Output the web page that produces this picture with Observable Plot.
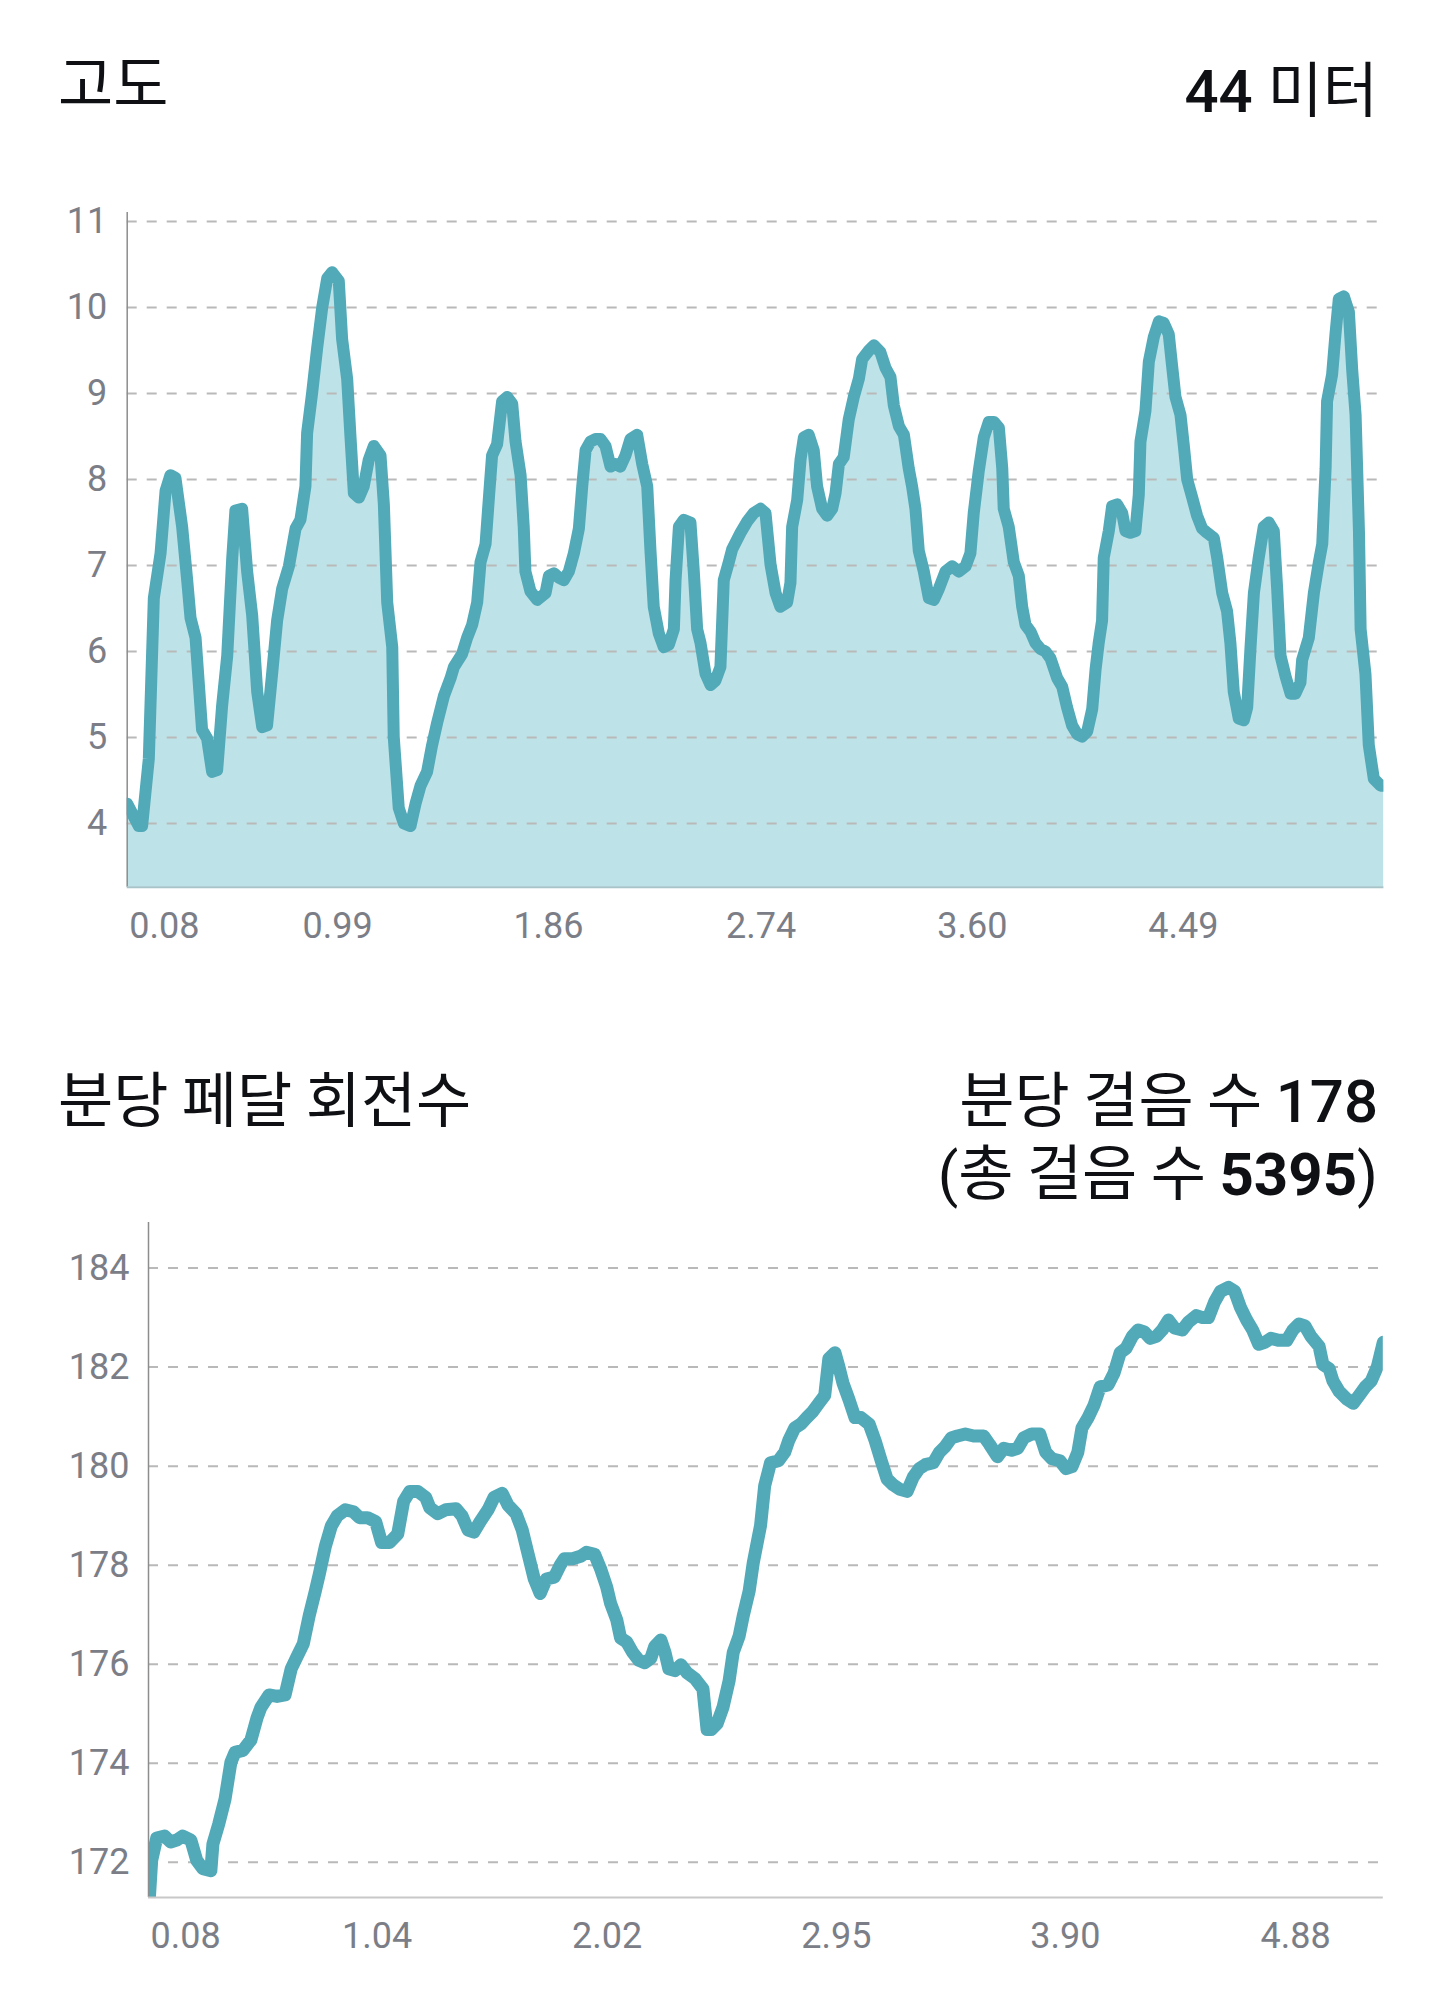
<!DOCTYPE html>
<html><head><meta charset="utf-8">
<script src="https://cdn.jsdelivr.net/npm/d3@7"></script>
<script src="https://cdn.jsdelivr.net/npm/@observablehq/plot@0.6"></script>
<style>
html,body{margin:0;padding:0;background:#fff;}
#page{position:relative;width:1440px;height:1992px;overflow:hidden;background:#fff;}
#chart1{position:absolute;left:0;top:0;}
#chart2{position:absolute;left:0;top:1000px;}
#titles{position:absolute;left:0;top:0;pointer-events:none;}
</style></head><body>
<div id="page"><div id="chart1"></div><div id="chart2"></div></div>
<script>
// ---------- Elevation (고도) ----------
const elevPos = [0.000,0.055,0.071,0.103,0.127,0.159,0.183,0.206,0.230,0.262,0.286,0.302,0.326,0.357,0.381,0.405,0.429,0.453,0.477,0.501,0.516,0.548,0.572,0.596,0.620,0.644,0.667,0.691,0.715,0.739,0.771,0.803,0.826,0.850,0.858,0.882,0.906,0.930,0.954,0.977,1.009,1.025,1.049,1.065,1.081,1.105,1.128,1.152,1.176,1.208,1.224,1.240,1.264,1.271,1.295,1.319,1.351,1.375,1.399,1.430,1.454,1.478,1.510,1.542,1.558,1.597,1.621,1.645,1.669,1.685,1.709,1.725,1.740,1.764,1.788,1.812,1.836,1.852,1.876,1.891,1.899,1.923,1.955,1.995,2.011,2.035,2.058,2.082,2.106,2.130,2.154,2.170,2.186,2.209,2.233,2.257,2.281,2.305,2.329,2.352,2.376,2.400,2.432,2.456,2.480,2.495,2.511,2.535,2.559,2.583,2.607,2.615,2.631,2.654,2.686,2.702,2.718,2.734,2.758,2.782,2.805,2.829,2.845,2.869,2.885,2.925,2.956,2.988,3.020,3.044,3.068,3.092,3.115,3.147,3.163,3.171,3.195,3.211,3.227,3.250,3.274,3.290,3.314,3.338,3.362,3.378,3.394,3.417,3.441,3.465,3.489,3.505,3.537,3.561,3.592,3.616,3.640,3.656,3.680,3.704,3.727,3.743,3.759,3.775,3.799,3.823,3.847,3.871,3.902,3.934,3.966,3.998,4.021,4.037,4.061,4.085,4.109,4.133,4.157,4.173,4.180,4.204,4.228,4.252,4.268,4.284,4.308,4.331,4.355,4.379,4.403,4.435,4.459,4.482,4.506,4.530,4.554,4.578,4.602,4.618,4.633,4.649,4.657,4.681,4.697,4.721,4.745,4.761,4.784,4.808,4.824,4.832,4.856,4.872,4.896,4.920,4.943,4.967,4.983,4.999,5.023,5.039,5.055,5.079,5.102,5.126,5.150,5.182,5.198,5.222,5.245,5.261,5.277,5.301,5.325,5.341,5.357,5.373,5.396,5.420,5.444,5.468,5.484,5.500,5.524,5.548,5.571,5.595,5.603,5.635,5.659,5.683,5.699,5.715,5.722,5.746,5.762,5.778,5.802,5.826,5.842,5.858,5.874,5.882,5.905,5.921,5.945,5.977,5.993];
const elevMeters = [4.23,3.97,3.97,4.75,6.62,7.14,7.87,8.05,8.02,7.45,6.83,6.39,6.16,5.09,4.99,4.60,4.62,5.38,5.95,7.09,7.64,7.66,6.93,6.42,5.53,5.12,5.14,5.74,6.36,6.73,6.99,7.43,7.53,7.92,8.54,9.01,9.53,10.0,10.34,10.41,10.31,9.63,9.17,8.49,7.84,7.79,7.92,8.23,8.39,8.28,7.71,6.57,6.05,5.01,4.18,4.0,3.97,4.23,4.44,4.60,4.91,5.17,5.48,5.69,5.82,5.97,6.16,6.31,6.57,7.04,7.25,7.79,8.28,8.41,8.91,8.96,8.88,8.44,8.05,7.45,6.93,6.70,6.60,6.68,6.88,6.91,6.86,6.83,6.93,7.14,7.43,7.92,8.34,8.44,8.47,8.47,8.39,8.15,8.18,8.15,8.28,8.47,8.52,8.18,7.92,7.19,6.52,6.21,6.05,6.08,6.26,6.83,7.45,7.53,7.50,6.93,6.26,6.10,5.74,5.61,5.66,5.82,6.83,7.04,7.19,7.38,7.51,7.61,7.66,7.61,7.01,6.68,6.52,6.57,6.80,7.45,7.76,8.23,8.49,8.52,8.34,7.92,7.66,7.58,7.66,7.84,8.18,8.26,8.70,8.96,9.17,9.40,9.50,9.56,9.48,9.30,9.19,8.86,8.62,8.52,8.13,7.92,7.66,7.17,6.93,6.62,6.60,6.73,6.93,6.99,6.93,6.99,7.14,7.61,8.10,8.49,8.67,8.67,8.60,8.13,7.66,7.45,7.04,6.88,6.52,6.31,6.23,6.10,6.03,6.0,5.92,5.69,5.59,5.35,5.14,5.04,5.01,5.07,5.33,5.79,6.10,6.36,7.09,7.40,7.69,7.71,7.61,7.40,7.38,7.40,7.82,8.44,8.80,9.37,9.66,9.84,9.82,9.69,9.32,8.96,8.75,8.39,8.0,7.79,7.58,7.43,7.38,7.32,7.09,6.68,6.47,6.10,5.53,5.22,5.20,5.35,6.05,6.68,7.09,7.45,7.50,7.40,6.73,5.95,5.71,5.51,5.51,5.64,5.90,6.16,6.68,7.04,7.25,8.13,8.91,9.22,9.69,10.10,10.13,9.95,9.27,8.75,7.40,6.26,5.74,4.91,4.52,4.44,4.44];
const elevYTicks = [4,5,6,7,8,9,10,11];
const elevTickPos = [0, 1.003, 2.009, 3.023, 4.030, 5.037];
const elevTickLabels = ["0.08","0.99","1.86","2.74","3.60","4.49"];

// ---------- Cadence (분당 페달 회전수) ----------
const cadPos = [0,0.014,0.036,0.071,0.097,0.124,0.150,0.186,0.212,0.239,0.274,0.283,0.309,0.336,0.362,0.380,0.415,0.450,0.477,0.494,0.530,0.565,0.600,0.627,0.653,0.680,0.706,0.733,0.750,0.777,0.803,0.830,0.865,0.900,0.927,0.962,0.998,1.024,1.059,1.095,1.121,1.148,1.183,1.218,1.236,1.271,1.306,1.351,1.377,1.404,1.430,1.457,1.492,1.518,1.554,1.580,1.615,1.642,1.668,1.695,1.721,1.748,1.783,1.810,1.827,1.863,1.898,1.924,1.960,1.986,2.013,2.030,2.057,2.074,2.101,2.127,2.154,2.180,2.207,2.224,2.251,2.269,2.286,2.313,2.339,2.366,2.401,2.436,2.454,2.472,2.498,2.524,2.551,2.569,2.595,2.613,2.639,2.657,2.689,2.707,2.733,2.768,2.795,2.813,2.839,2.866,2.892,2.918,2.945,2.971,2.989,3.016,3.033,3.051,3.077,3.104,3.130,3.166,3.192,3.219,3.245,3.272,3.298,3.333,3.360,3.386,3.413,3.448,3.475,3.501,3.527,3.554,3.589,3.625,3.669,3.695,3.730,3.757,3.792,3.819,3.845,3.881,3.916,3.942,3.969,4.004,4.031,4.057,4.083,4.101,4.128,4.154,4.181,4.216,4.242,4.269,4.295,4.322,4.348,4.375,4.401,4.428,4.454,4.481,4.507,4.542,4.569,4.604,4.631,4.657,4.684,4.710,4.745,4.772,4.798,4.825,4.851,4.878,4.904,4.931,4.966,5.001,5.028,5.054,5.081,5.107,5.143,5.160,5.187,5.204,5.231,5.266,5.293,5.319,5.346,5.372,5.399,5.425];
const cadSpm = [171.0,172.04,172.49,172.53,172.41,172.45,172.53,172.45,172.04,171.87,171.83,172.37,172.78,173.27,174.02,174.22,174.26,174.47,174.92,175.13,175.38,175.35,175.38,175.91,176.16,176.41,176.98,177.48,177.81,178.38,178.79,179.0,179.12,179.08,178.96,178.96,178.88,178.46,178.46,178.63,179.29,179.49,179.49,179.37,179.16,179.04,179.12,179.14,179.0,178.71,178.67,178.88,179.12,179.37,179.45,179.21,179.04,178.71,178.22,177.72,177.43,177.72,177.76,178.01,178.13,178.13,178.18,178.26,178.22,177.93,177.56,177.23,176.90,176.53,176.45,176.24,176.08,176.03,176.12,176.36,176.49,176.24,175.91,175.87,175.99,175.83,175.71,175.50,174.68,174.68,174.80,175.13,175.67,176.24,176.57,176.98,177.48,178.05,178.8,179.6,180.07,180.11,180.28,180.52,180.77,180.85,180.98,181.10,181.27,181.43,182.17,182.29,182.01,181.68,181.35,180.98,180.98,180.85,180.52,180.11,179.74,179.62,179.54,179.49,179.78,179.95,180.03,180.07,180.28,180.40,180.57,180.61,180.65,180.61,180.61,180.44,180.19,180.36,180.32,180.36,180.57,180.65,180.65,180.28,180.15,180.11,179.95,179.99,180.28,180.77,180.98,181.23,181.60,181.64,181.88,182.29,182.38,182.62,182.75,182.71,182.58,182.62,182.75,182.95,182.79,182.75,182.91,183.04,183.0,183.0,183.32,183.53,183.61,183.53,183.20,182.95,182.75,182.46,182.50,182.58,182.54,182.54,182.75,182.87,182.83,182.62,182.42,182.05,181.97,181.72,181.51,181.35,181.27,181.43,181.60,181.72,182.01,182.50];
const cadYTicks = [172,174,176,178,180,182,184];
const cadTickPos = [0, 1.004, 2.015, 3.022, 4.028, 5.040];
const cadTickLabels = ["0.08","1.04","2.02","2.95","3.90","4.88"];

// ---------- Titles ----------
const title1Left = "고도";
const title1RightNum = "44", title1RightUnit = "미터";
const title2Left = "분당 페달 회전수";
const title2Line1Text = "분당 걸음 수 ", title2Line1Num = "178";
const title2Line2Text = "총 걸음 수 ", title2Line2Num = "5395";

const TEAL = "#52a9b8", FILL = "#bde2e7", GRID = "#b9b9b9", LABEL = "#7b7e87";
const FONT = "Roboto, 'Noto Sans CJK KR', sans-serif";

function xLabelMarks(pos, labels) {
  const first = [{p: pos[0], label: labels[0]}];
  const rest = pos.slice(1).map((p, i) => ({p, label: labels[i + 1]}));
  const common = {x: "p", text: "label", frameAnchor: "bottom", dy: 25, lineAnchor: "top", fontSize: 36, fill: LABEL};
  return [
    Plot.text(first, {...common, textAnchor: "start", dx: 2}),
    Plot.text(rest, {...common, textAnchor: "middle"})
  ];
}

// Chart 1
const elev = elevPos.map((u, i) => ({u, v: elevMeters[i]}));
const elevDomain = [3.259, 11.105];
const chart1 = Plot.plot({
  width: 1440, height: 990,
  marginTop: 212, marginBottom: 103.3, marginLeft: 126.7, marginRight: 56.6,
  style: {background: "transparent", fontFamily: FONT, overflow: "visible"},
  x: {domain: [0, 5.993], axis: null},
  y: {domain: elevDomain, axis: null},
  marks: [
    Plot.areaY(elev, {x: "u", y1: elevDomain[0], y2: "v", fill: FILL, clip: true}),
    Plot.ruleY(elevYTicks, {stroke: GRID, strokeWidth: 2, strokeDasharray: "10,10"}),
    Plot.line(elev, {x: "u", y: "v", stroke: TEAL, strokeWidth: 12, clip: true}),
    Plot.ruleX([0], {stroke: "#8d8d8d", strokeWidth: 1.5}),
    Plot.ruleY([elevDomain[0]], {stroke: "#a7c4c9", strokeWidth: 2}),
    Plot.text(elevYTicks, {y: d => d, text: d => String(d), frameAnchor: "left", dx: -20, textAnchor: "end", fontSize: 36, fill: LABEL}),
    ...xLabelMarks(elevTickPos, elevTickLabels)
  ]
});
document.getElementById("chart1").appendChild(chart1);

// Chart 2
const cad = cadPos.map((u, i) => ({u, v: cadSpm[i]}));
const cadDomain = [171.29, 184.92];
const chart2 = Plot.plot({
  width: 1440, height: 992,
  marginTop: 222, marginBottom: 95, marginLeft: 148, marginRight: 57.2,
  style: {background: "transparent", fontFamily: FONT, overflow: "visible"},
  x: {domain: [0, 5.425], axis: null},
  y: {domain: cadDomain, axis: null},
  marks: [
    Plot.ruleY(cadYTicks, {stroke: GRID, strokeWidth: 2, strokeDasharray: "10,10"}),
    Plot.line(cad, {x: "u", y: "v", stroke: TEAL, strokeWidth: 13, clip: true}),
    Plot.ruleX([0], {stroke: "#8d8d8d", strokeWidth: 1.5}),
    Plot.ruleY([cadDomain[0]], {stroke: "#c8c8c8", strokeWidth: 2}),
    Plot.text(cadYTicks, {y: d => d, text: d => String(d), frameAnchor: "left", dx: -19, textAnchor: "end", fontSize: 36, fill: LABEL}),
    ...xLabelMarks(cadTickPos, cadTickLabels)
  ]
});
document.getElementById("chart2").appendChild(chart2);

// Titles overlay
const svg = d3.select("#page").append("svg").attr("id", "titles").attr("width", 1440).attr("height", 1992);
const HANGUL = "'Noto Sans CJK KR', sans-serif", LATIN = "Roboto, sans-serif";
function addParts(t, parts, first) {
  parts.forEach(([s, size, weight, fam], i) => {
    const ts = t.append("tspan").text(s).attr("font-size", size).attr("font-weight", weight).attr("font-family", fam);
    if (i === 0 && first) first(ts);
  });
}
function title(x, y, anchor, parts) {
  const t = svg.append("text").attr("x", x).attr("y", y).attr("text-anchor", anchor).attr("fill", "#0e1014");
  addParts(t, parts);
  return t;
}
title(58, 106, "start", [[title1Left, 60, 400, HANGUL]]);
title(1378, 112, "end", [[title1RightNum + " ", 60, 500, LATIN], [title1RightUnit, 60, 400, HANGUL]]);
title(58, 1122, "start", [[title2Left, 60, 400, HANGUL]]);
// two-line right-aligned block as one text element
const t2 = title(1378, 1122, "end", [[title2Line1Text, 60, 400, HANGUL], [title2Line1Num, 60, 500, LATIN]]);
addParts(t2, [["(", 60, 400, LATIN], [title2Line2Text, 60, 400, HANGUL], [title2Line2Num, 60, 700, LATIN], [")", 60, 400, LATIN]],
  ts => ts.attr("x", 1378).attr("y", 1195));
</script>
</body></html>
